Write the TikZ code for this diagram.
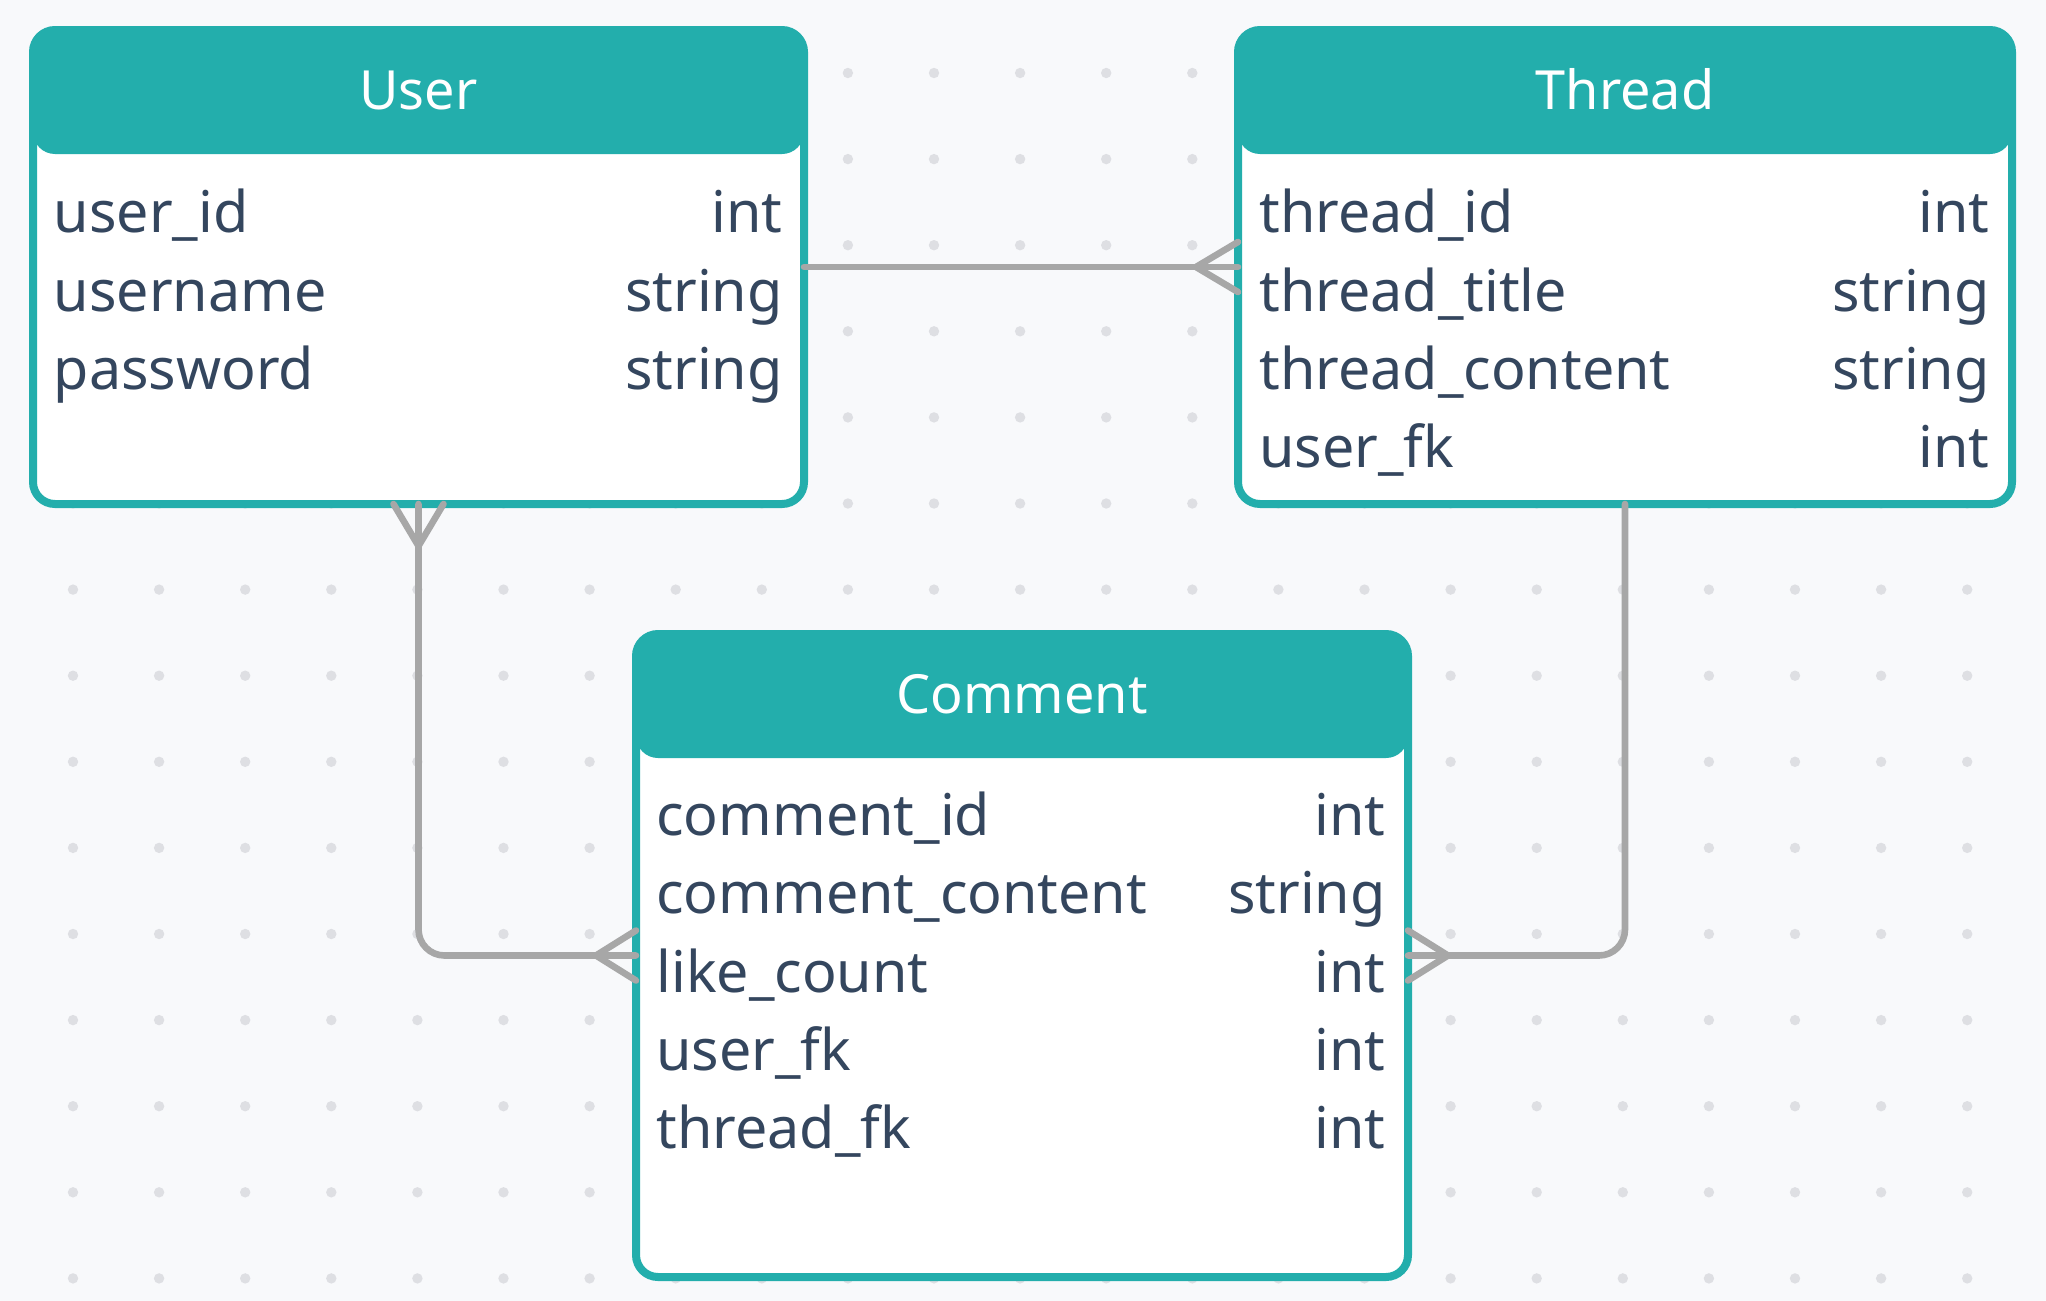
\documentclass[tikz,border=0pt]{standalone}
\usepackage{fontspec}
\setmainfont{Noto Sans}
\definecolor{teal}{HTML}{23AEAC}
\definecolor{txt}{HTML}{34465E}
\definecolor{bg}{HTML}{F8F9FB}
\definecolor{dotc}{HTML}{DEDFE3}
\definecolor{conn}{HTML}{A7A7A7}
\tikzset{
  tbl/.style={draw=teal, line width=4pt, fill=white, rounded corners=11pt, inner sep=0pt, outer sep=0pt,
    path picture={\fill[teal] ([yshift=2pt]path picture bounding box.north west) rectangle ([yshift=-62pt]path picture bounding box.north east);}},
  ttl/.style={text=white, font=\fontsize{27}{27}\selectfont, inner sep=0pt, anchor=base},
  fld/.style={text=txt, font=\fontsize{28.7}{28.7}\selectfont, inner sep=0pt},
  fl/.style={fld, anchor=base west},
  fr/.style={fld, anchor=base east},
  connl/.style={draw=conn, line width=3.3pt, line cap=round, line join=round},
}
\begin{document}
\begin{tikzpicture}[x=0.5pt,y=-0.5pt]
\useasboundingbox (0,0) rectangle (2046,1301);
\fill[bg] (0,0) rectangle (2046,1301);
\foreach \i in {0,...,22}{
  \foreach \j in {0,...,14}{
    \fill[dotc] (73+86.1*\i, 73+86.1*\j) circle (2.6pt);
  }
}
% boxes
\node[tbl, minimum width=385.5pt, minimum height=237pt] (user) at (418.5,267) {};
\node[tbl, minimum width=387pt, minimum height=237pt] (thread) at (1625,267) {};
\node[tbl, minimum width=386pt, minimum height=321.5pt] (comment) at (1022,955.5) {};
% titles
\node[ttl] (usert) at (418.5,109) {User};
\node[ttl] (threadt) at (1625,109) {Thread};
\node[ttl] (commentt) at (1022,713) {Comment};
% user fields
\node[fl] (u1) at (53.5,232) {user\_id};
\node[fr] (u1t) at (783,232) {int};
\node[fl] (u2) at (53.5,311) {username};
\node[fr] (u2t) at (783,311) {string};
\node[fl] (u3) at (53.5,389) {password};
\node[fr] (u3t) at (783,389) {string};
% thread fields
\node[fl] (t1) at (1259,232) {thread\_id};
\node[fr] (t1t) at (1990,232) {int};
\node[fl] (t2) at (1259,311) {thread\_title};
\node[fr] (t2t) at (1990,311) {string};
\node[fl] (t3) at (1259,389) {thread\_content};
\node[fr] (t3t) at (1990,389) {string};
\node[fl] (t4) at (1259,467) {user\_fk};
\node[fr] (t4t) at (1990,467) {int};
% comment fields
\node[fl] (c1) at (656,835) {comment\_id};
\node[fr] (c1t) at (1386,835) {int};
\node[fl] (c2) at (656,913) {comment\_content};
\node[fr] (c2t) at (1386,913) {string};
\node[fl] (c3) at (656,992) {like\_count};
\node[fr] (c3t) at (1386,992) {int};
\node[fl] (c4) at (656,1070) {user\_fk};
\node[fr] (c4t) at (1386,1070) {int};
\node[fl] (c5) at (656,1148) {thread\_fk};
\node[fr] (c5t) at (1386,1148) {int};
% connectors
\draw[connl] (user.east) -- (thread.west);
\draw[connl] ([yshift=12.5pt]thread.west) -- ([xshift=-21pt]thread.west) -- ([yshift=-12.5pt]thread.west);
\draw[connl, rounded corners=13pt] (user.south) |- (comment.west);
\draw[connl] ([xshift=-12.5pt]user.south) -- ([yshift=-21pt]user.south) -- ([xshift=12.5pt]user.south);
\draw[connl] ([yshift=12.5pt]comment.west) -- ([xshift=-20pt]comment.west) -- ([yshift=-12.5pt]comment.west);
\draw[connl, rounded corners=13pt] (thread.south) |- (comment.east);
\draw[connl] ([yshift=12.5pt]comment.east) -- ([xshift=20pt]comment.east) -- ([yshift=-12.5pt]comment.east);
\end{tikzpicture}
\end{document}
